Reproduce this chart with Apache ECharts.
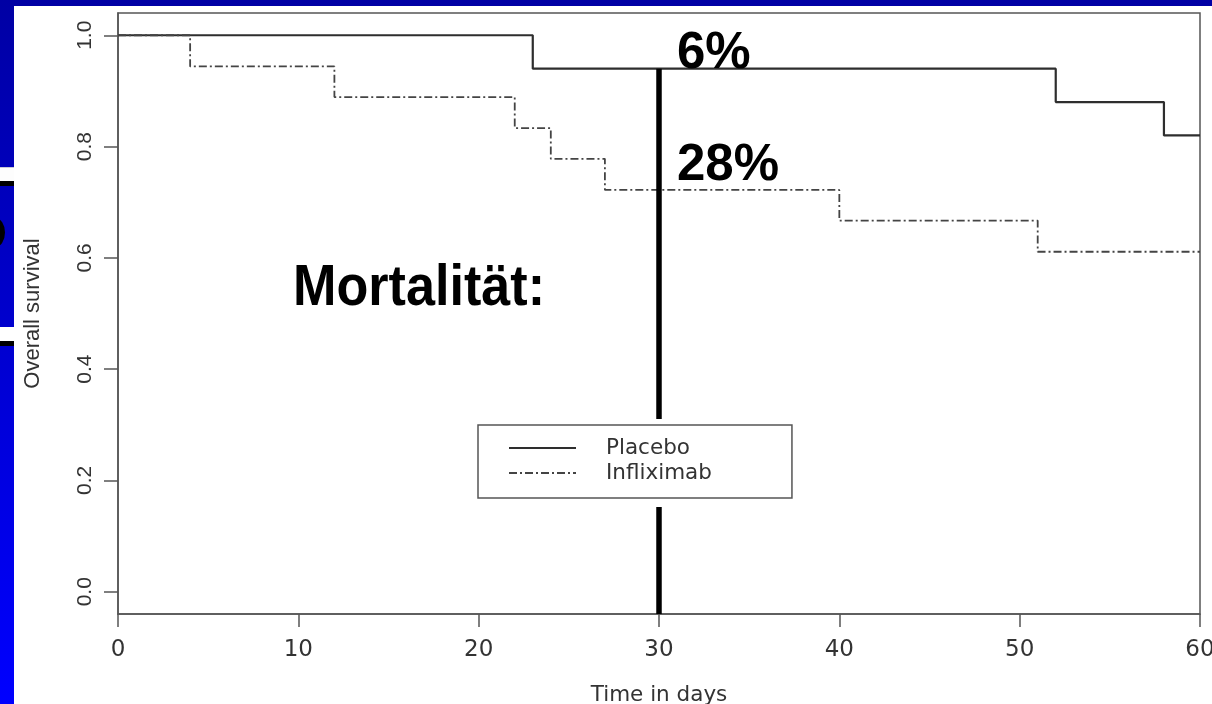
<!DOCTYPE html>
<html>
<head>
<meta charset="utf-8">
<script src="https://cdn.jsdelivr.net/npm/echarts@6/dist/echarts.min.js"></script>
<style>
  html, body { margin: 0; padding: 0; }
  body { width: 1212px; height: 704px; overflow: hidden; position: relative;
         background: linear-gradient(to bottom, #0000a4 0%, #0000c8 40%, #0000ff 100%); }
  #sheet { position: absolute; left: 14px; top: 6px; right: 0; bottom: 0; background: #ffffff; }
  .band { position: absolute; left: 0; width: 14px; }
  #glyphClip { position: absolute; left: 0; top: 214px; width: 5px; height: 36px; overflow: hidden; }
  #glyph { position: absolute; left: -14px; top: 4px; width: 9px; height: 19px; border: 5px solid #000; border-radius: 50%; }
  #chart { position: absolute; left: 0; top: 0; width: 1212px; height: 704px; }
</style>
</head>
<body>
<div id="sheet"></div>
<div class="band" style="top:167px;height:14px;background:#fdfdfd;border-top:1px solid #c8c8d8;"></div>
<div class="band" style="top:181px;height:5px;background:#000;"></div>
<div class="band" style="top:327px;height:14px;background:#ffffff;"></div>
<div class="band" style="top:341px;height:5px;background:#000;"></div>
<div id="glyphClip"><div id="glyph"></div></div>
<div id="chart"></div>
<script>
// ---- data ----
const placeboDays = [0, 23, 52, 58, 60];
const placeboSurv = [1.0, 0.94, 0.88, 0.82, 0.82];
const inflixDays  = [0, 4, 12, 22, 24, 27, 40, 51, 60];
const inflixSurv  = [1.0, 0.944, 0.889, 0.833, 0.778, 0.722, 0.667, 0.611, 0.611];
const seriesNames = ['Placebo', 'Infliximab'];
const markerDay = [30, 30];
const markerSurv = [0.94, -0.04];
const yTickValues = [0, 0.2, 0.4, 0.6, 0.8, 1.0];
const xAxisTitle = 'Time in days';
const yAxisTitle = 'Overall survival';
const annotations = ['6%', '28%', 'Mortalität:'];

const zip = (a, b) => a.map((v, i) => [v, b[i]]);

const chart = echarts.init(document.getElementById('chart'), null, { renderer: 'canvas' });
const axisGray = '#555555';
const textGray = '#333333';

chart.setOption({
  backgroundColor: 'transparent',
  animation: false,
  grid: {
    left: 118, right: 12, top: 13, bottom: 90,
    outerBoundsMode: 'none', containLabel: false,
    show: true, borderColor: axisGray, borderWidth: 1.5, backgroundColor: 'transparent'
  },
  xAxis: {
    type: 'value', min: 0, max: 60, interval: 10,
    axisLine: { show: true, onZero: false, lineStyle: { color: axisGray, width: 1.5 } },
    axisTick: { show: true, length: 13, lineStyle: { color: axisGray, width: 1.5 } },
    axisLabel: { color: textGray, fontFamily: 'DejaVu Sans', fontSize: 23, margin: 25 },
    splitLine: { show: false },
    name: xAxisTitle, nameLocation: 'middle', nameGap: 70,
    nameTextStyle: { color: textGray, fontFamily: 'DejaVu Sans', fontSize: 21.5 }
  },
  yAxis: {
    type: 'value', min: -0.04, max: 1.04,
    axisLine: { show: true, onZero: false, lineStyle: { color: axisGray, width: 1.5 } },
    axisTick: { show: true, length: 14, customValues: yTickValues, lineStyle: { color: axisGray, width: 1.5 } },
    axisLabel: {
      customValues: yTickValues, rotate: 90, margin: 22,
      color: textGray, fontFamily: 'Liberation Sans', fontSize: 21,
      formatter: v => Number(v).toFixed(1)
    },
    splitLine: { show: false },
    name: yAxisTitle, nameLocation: 'middle', nameRotate: 90, nameGap: 74,
    nameTextStyle: { color: textGray, fontFamily: 'Liberation Sans', fontSize: 22 }
  },
  legend: {
    data: seriesNames,
    orient: 'vertical', left: 478, top: 425,
    padding: [12, 80, 14, 30],
    itemWidth: 67, itemHeight: 14, itemGap: 3,
    itemStyle: { color: 'rgba(0,0,0,0)', borderColor: 'rgba(0,0,0,0)', borderWidth: 0 },
    backgroundColor: '#ffffff', borderColor: axisGray, borderWidth: 1.5, borderRadius: 0,
    textStyle: { color: textGray, fontFamily: 'DejaVu Sans', fontSize: 21.5, lineHeight: 22, padding: [0, 0, 0, 25] },
    z: 10
  },
  graphic: [
    { type: 'rect', z: 5, shape: { x: 654, y: 419, width: 12, height: 88 }, style: { fill: '#ffffff' } },
    { type: 'text', z: 20, x: 677, y: 79,
      style: { text: annotations[0], font: 'bold 51px "Liberation Sans", Arial, sans-serif', fill: '#000', textVerticalAlign: 'bottom', verticalAlign: 'bottom' } },
    { type: 'text', z: 20, x: 677, y: 191,
      style: { text: annotations[1], font: 'bold 51px "Liberation Sans", Arial, sans-serif', fill: '#000', textVerticalAlign: 'bottom', verticalAlign: 'bottom' } },
    { type: 'text', z: 20, x: 293, y: 318, scaleX: 0.915,
      style: { text: annotations[2], font: 'bold 57px "Liberation Sans", Arial, sans-serif', fill: '#000', textVerticalAlign: 'bottom', verticalAlign: 'bottom' } }
  ],
  series: [
    {
      name: seriesNames[0], type: 'line', step: 'end', symbol: 'circle', symbolSize: 0, showSymbol: false,
      data: zip(placeboDays, placeboSurv),
      lineStyle: { color: '#2e2e2e', width: 2.2 },
      itemStyle: { color: '#2e2e2e' }, z: 2
    },
    {
      name: seriesNames[1], type: 'line', step: 'end', symbol: 'circle', symbolSize: 0, showSymbol: false,
      data: zip(inflixDays, inflixSurv),
      lineStyle: { color: '#444444', width: 1.8, type: [8, 3, 2, 3] },
      itemStyle: { color: '#444444' }, z: 2
    },
    {
      name: 'marker', type: 'line', symbol: 'none', clip: false,
      data: zip(markerDay, markerSurv),
      lineStyle: { color: '#000000', width: 5.5 }, z: 3
    }
  ]
});
</script>
</body>
</html>
